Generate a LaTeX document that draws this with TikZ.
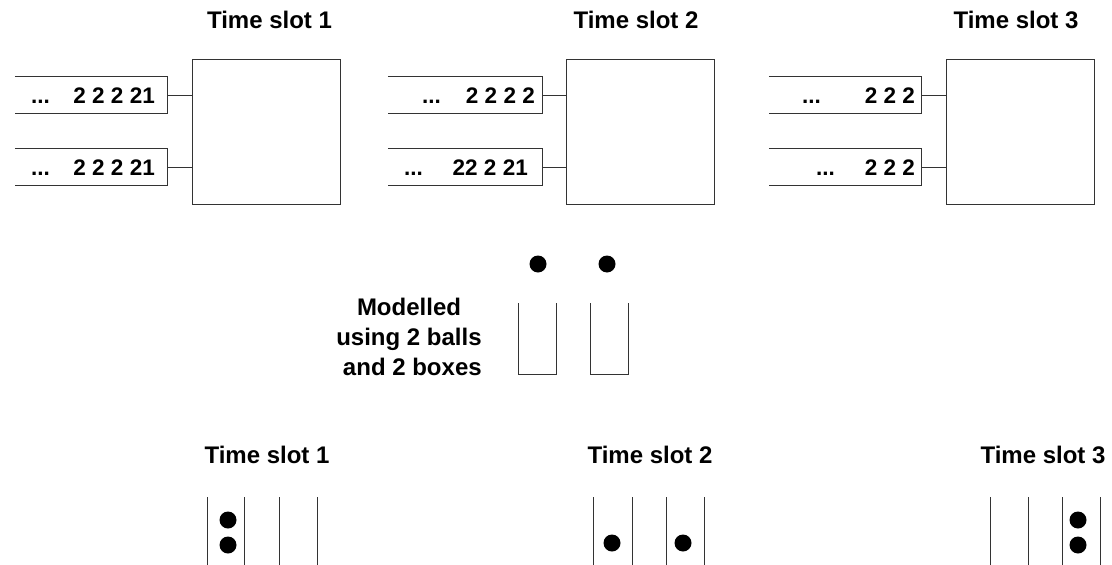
\documentclass[tikz,border=0pt]{standalone}
\usepackage{fontspec}
\setmainfont{Liberation Sans}
\definecolor{ln}{gray}{0.2}
\begin{document}
\begin{tikzpicture}[x=1pt,y=-1pt,
  lbl/.style={font=\bfseries\fontsize{24}{30}\selectfont, inner sep=0pt, anchor=base},
  qtxt/.style={font=\bfseries\fontsize{22.5}{25}\selectfont, inner sep=0pt, anchor=base east},
  qdots/.style={font=\bfseries\fontsize{22.5}{25}\selectfont, inner sep=0pt, anchor=base west},
  bigbox/.style={draw=ln, line width=1pt, minimum width=148pt, minimum height=145pt, inner sep=0pt},
  queue/.style={minimum height=36pt, inner sep=0pt},
  ball/.style={circle, fill=black, minimum size=17pt, inner sep=0pt},
  wire/.style={draw=ln, line width=1pt}]
\useasboundingbox (0,0) rectangle (1112,565);

% ---------- top: time slot 1 ----------
\node[lbl] (t1) at (269.5,28) {Time slot 1};
\node[bigbox] (b1) at (266,131.5) {};
\node[queue, minimum width=152pt] (q1a) at (91,95) {};
\node[queue, minimum width=152pt] (q1b) at (91,167) {};
\foreach \q in {q1a,q1b}{
  \draw[wire] (\q.north west) -- (\q.north east) -- (\q.south east) -- (\q.south west);
  \draw[wire] (\q.east) -- (\q.east -| b1.west);
}
\node[qdots] (d1a) at (31,103) {...};
\node[qtxt] (n1a) at (155,103) {2 2 2 21};
\node[qdots] (d1b) at (31,175) {...};
\node[qtxt] (n1b) at (155,175) {2 2 2 21};

% ---------- top: time slot 2 ----------
\node[lbl] (t2) at (636,28) {Time slot 2};
\node[bigbox] (b2) at (640.5,131.5) {};
\node[queue, minimum width=154pt] (q2a) at (465,95) {};
\node[queue, minimum width=154pt] (q2b) at (465,167) {};
\foreach \q in {q2a,q2b}{
  \draw[wire] (\q.north west) -- (\q.north east) -- (\q.south east) -- (\q.south west);
  \draw[wire] (\q.east) -- (\q.east -| b2.west);
}
\node[qdots] (d2a) at (422,103) {...};
\node[qtxt] (n2a) at (535,103) {2 2 2 2};
\node[qdots] (d2b) at (404,175) {...};
\node[qtxt] (n2b) at (528,175) {22 2 21};

% ---------- top: time slot 3 ----------
\node[lbl] (t3) at (1016,28) {Time slot 3};
\node[bigbox] (b3) at (1020.5,131.5) {};
\node[queue, minimum width=152pt] (q3a) at (845,95) {};
\node[queue, minimum width=152pt] (q3b) at (845,167) {};
\foreach \q in {q3a,q3b}{
  \draw[wire] (\q.north west) -- (\q.north east) -- (\q.south east) -- (\q.south west);
  \draw[wire] (\q.east) -- (\q.east -| b3.west);
}
\node[qdots] (d3a) at (802,103) {...};
\node[qtxt] (n3a) at (915,103) {2 2 2};
\node[qdots] (d3b) at (816,175) {...};
\node[qtxt] (n3b) at (915,175) {2 2 2};

% ---------- middle ----------
\node[font=\bfseries\fontsize{24}{30}\selectfont, inner sep=0pt, align=center, anchor=north] (model) at (409,298)
  {Modelled\\using 2 balls\\\hspace*{6.7pt}and 2 boxes};
\node[ball] (mb1) at (538,264) {};
\node[ball] (mb2) at (607,264) {};
\draw[wire] (518,303) -- (518,374) -- (556,374) -- (556,303);
\draw[wire] (590,303) -- (590,374) -- (628,374) -- (628,303);

% ---------- bottom ----------
\node[lbl] (bt1) at (267,463) {Time slot 1};
\node[lbl] (bt2) at (650,463) {Time slot 2};
\node[lbl] (bt3) at (1043,463) {Time slot 3};
\foreach \x in {207,244,279,317,593,632,666,704,990,1028,1062,1100}{
  \draw[wire] (\x,497) -- (\x,565);
}
\node[ball] (s1a) at (228,520) {};
\node[ball] (s1b) at (228,545) {};
\node[ball] (s2a) at (612,543) {};
\node[ball] (s2b) at (683,543) {};
\node[ball] (s3a) at (1078,520) {};
\node[ball] (s3b) at (1078,545) {};
\end{tikzpicture}
\end{document}
